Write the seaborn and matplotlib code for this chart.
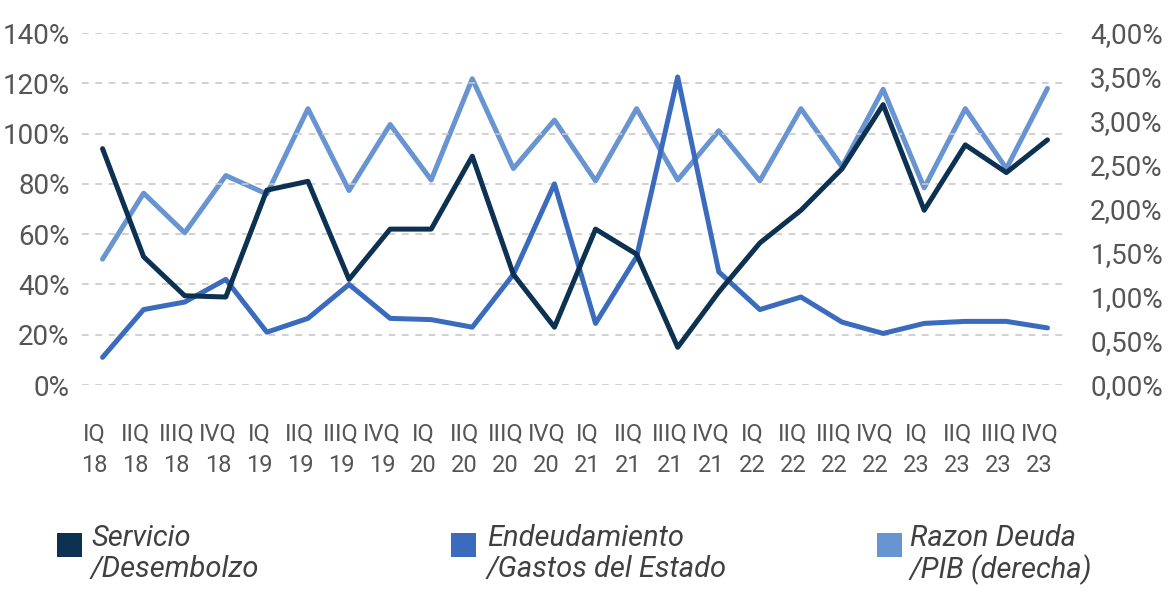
import numpy as np
import pandas as pd
import seaborn as sns
import matplotlib.pyplot as plt
import matplotlib.transforms as mtransforms
from matplotlib.patches import Rectangle
from matplotlib.ticker import FuncFormatter, MultipleLocator

# Quarters (labels on two lines)
quarters = ['IQ\n18', 'IIQ\n18', 'IIIQ\n18', 'IVQ\n18',
            'IQ\n19', 'IIQ\n19', 'IIIQ\n19', 'IVQ\n19',
            'IQ\n20', 'IIQ\n20', 'IIIQ\n20', 'IVQ\n20',
            'IQ\n21', 'IIQ\n21', 'IIIQ\n21', 'IVQ\n21',
            'IQ\n22', 'IIQ\n22', 'IIIQ\n22', 'IVQ\n22',
            'IQ\n23', 'IIQ\n23', 'IIIQ\n23', 'IVQ\n23']

# Servicio / Desembolzo (left axis, %)
servicio = [94, 51, 35.5, 35, 77.5, 81, 42, 62, 62, 91, 44, 23,
            62, 52, 15, 37, 56.5, 69.5, 86, 111.5, 69.5, 95.5, 84.5, 97.5]

# Endeudamiento / Gastos del Estado (left axis, %)
endeudamiento = [11, 30, 33, 42, 21, 26.5, 40, 26.5, 26, 23, 44, 80,
                 24.5, 51, 122.5, 45, 30, 35, 25, 20.5, 24.5, 25.3, 25.3, 22.7]

# Razon Deuda / PIB (right axis, %)
razon = [1.43, 2.18, 1.73, 2.38, 2.17, 3.14, 2.21, 2.96, 2.33, 3.48, 2.46, 3.01,
         2.32, 3.14, 2.33, 2.89, 2.32, 3.14, 2.48, 3.36, 2.24, 3.14, 2.46, 3.37]

names = ['Servicio\n/Desembolzo', 'Endeudamiento\n/Gastos del Estado', 'Razon Deuda\n/PIB (derecha)']
colors = ['#0c3151', '#3b6bbd', '#6894d1']

sns.set_style('white')
plt.rcParams['font.family'] = ['Roboto', 'DejaVu Sans']

x = np.arange(len(quarters))
df = pd.DataFrame({'x': x, 'servicio': servicio, 'endeudamiento': endeudamiento, 'razon': razon})

W, H = 1169, 592
fig = plt.figure(figsize=(W / 100, H / 100), dpi=100)
ax = fig.add_axes([82 / W, 1 - 385 / H, (1068 - 82) / W, (385 - 33) / H])
ax2 = ax.twinx()

sns.lineplot(data=df, x='x', y='servicio', ax=ax, color=colors[0], linewidth=3.6, zorder=3)
sns.lineplot(data=df, x='x', y='endeudamiento', ax=ax, color=colors[1], linewidth=3.6, zorder=2)
sns.lineplot(data=df, x='x', y='razon', ax=ax2, color=colors[2], linewidth=3.6, zorder=1)

# put the right-axis line behind the left ones
ax.set_zorder(ax2.get_zorder() + 1)
ax.patch.set_visible(False)

ax.set_xlim(-0.5, len(quarters) - 0.5)
ax.set_ylim(0, 140)
ax2.set_ylim(0, 4)
ax.yaxis.set_major_locator(MultipleLocator(20))
ax2.yaxis.set_major_locator(MultipleLocator(0.5))
ax.yaxis.set_major_formatter(FuncFormatter(lambda v, p: f'{v:.0f}%'))
ax2.yaxis.set_major_formatter(FuncFormatter(lambda v, p: f'{v:.2f}%'.replace('.', ',')))

ax.grid(axis='y', color='#c8c8c8', linestyle=(0, (4, 4)), linewidth=1.2)
ax.grid(axis='x', visible=False)
ax2.grid(False)
for a in (ax, ax2):
    for s in a.spines.values():
        s.set_visible(False)
    a.set_xlabel('')
    a.set_ylabel('')

ax.set_xticks(x)
ax.set_xticklabels(quarters, linespacing=1.45)
ax.tick_params(axis='x', length=0, pad=27, labelsize=17, labelcolor='#555555')
ax.tick_params(axis='y', length=0, pad=9, labelsize=20, labelcolor='#555555')
ax2.tick_params(axis='y', length=0, pad=16, labelsize=20, labelcolor='#555555')

# x labels sit slightly left of the points in the reference
shift = mtransforms.ScaledTranslation(-8 / 100, 0, fig.dpi_scale_trans)
for lbl in ax.get_xticklabels():
    lbl.set_transform(lbl.get_transform() + shift)

# legend: square swatch aligned with the first text line
sq_x = [57, 451, 877]
txt_x = [91, 487, 910]
for name, col, sx, tx in zip(names, colors, sq_x, txt_x):
    fig.add_artist(Rectangle((sx / W, 1 - 557 / H), 25 / W, 24 / H,
                             transform=fig.transFigure, color=col, lw=0))
    fig.text(tx / W, 1 - 524 / H, name, ha='left', va='top', fontsize=21,
             style='italic', color='#404040', linespacing=1.12)

fig.savefig('out.png', dpi=100)
